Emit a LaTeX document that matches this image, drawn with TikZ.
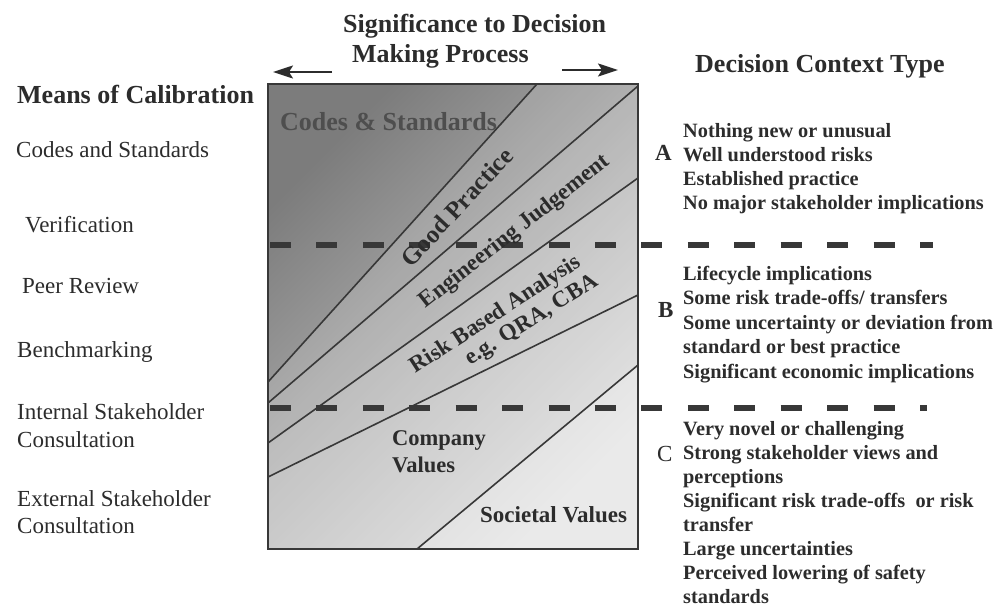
\documentclass[tikz,border=0pt]{standalone}
\usepackage{fontspec}
\setmainfont{Liberation Serif}
\usetikzlibrary{arrows.meta}
\definecolor{ink}{HTML}{2C2C2C}
\definecolor{edge}{HTML}{383838}
\definecolor{shadeTL}{HTML}{7C7C7C}
\definecolor{shadeBR}{HTML}{D5D5D5}
\definecolor{bandink}{HTML}{4E4E4E}
\tikzset{
  lab/.style={text=ink, inner sep=0pt, anchor=base west},
  lefttxt/.style={lab, font=\fontsize{23}{27}\selectfont},
  lefthead/.style={lab, font=\fontsize{26}{30}\selectfont\bfseries},
  righttxt/.style={lab, font=\fontsize{20.3}{24}\selectfont\bfseries},
  letter/.style={lab, font=\fontsize{23}{27}\selectfont\bfseries},
  bandtxt/.style={text=ink, inner sep=0pt, font=\fontsize{23}{27}\selectfont\bfseries},
  boundary/.style={draw=edge, line width=1.6pt},
  divider/.style={draw=edge, line width=6.5pt, dash pattern=on 21pt off 25.43pt},
  sigarrow/.style={draw=ink, line width=2pt, -{Stealth[length=20pt,width=13pt,inset=4pt]}},
  lighten/.style={fill=white, fill opacity=#1, draw=none},
}
\begin{document}
\begin{tikzpicture}[x=1pt, y=-1pt]
\useasboundingbox (0,0) rectangle (1005,608);
\fill[white] (0,0) rectangle (1005,608);

% ---- box with bands ----
\shade[top color=shadeTL, bottom color=shadeBR, shading angle=45] (268,84) rectangle (638,549);
\fill[lighten=0.15] (537,84) -- (638,84) -- (638,86) -- (268,403) -- (268,382) -- cycle;
\fill[lighten=0.22] (638,86) -- (638,178) -- (268,443) -- (268,403) -- cycle;
\fill[lighten=0.30] (638,178) -- (638,295) -- (268,477) -- (268,443) -- cycle;
\fill[lighten=0.35] (638,295) -- (638,365) -- (417,549) -- (268,549) -- (268,477) -- cycle;
\fill[lighten=0.50] (638,365) -- (638,549) -- (417,549) -- cycle;

\draw[boundary] (537,84) -- (268,382);
\draw[boundary] (638,86) -- (268,403);
\draw[boundary] (638,178) -- (268,443);
\draw[boundary] (638,295) -- (268,477);
\draw[boundary] (638,365) -- (417,549);

\draw[divider] (270,245) -- (933,245);
\draw[divider] (270,408) -- (927,408);

\draw[draw=edge, line width=2.4pt] (268,84) rectangle (638,549);

% ---- band labels ----
\node[lab, text=bandink, font=\fontsize{26}{30}\selectfont\bfseries] (cs) at (280,130) {Codes \& Standards};
\node[bandtxt, font=\fontsize{25}{29}\selectfont\bfseries, rotate=47] (gp) at (457,207) {Good Practice};
\node[bandtxt, rotate=38] (ej) at (515,232) {Engineering Judgement};
\node[bandtxt, rotate=33] (rba) at (496,315) {Risk Based Analysis};
\node[bandtxt, rotate=32] (qra) at (532,321) {e.g. QRA, CBA};
\node[lab, font=\fontsize{22.5}{27}\selectfont\bfseries] (cv1) at (392,445) {Company};
\node[lab, font=\fontsize{22.5}{27}\selectfont\bfseries] (cv2) at (392,472) {Values};
\node[lab, font=\fontsize{23}{27}\selectfont\bfseries] (sv) at (480,522) {Societal Values};

% ---- title and arrows ----
\node[lab, font=\fontsize{26}{30}\selectfont\bfseries] (t1) at (343,32) {Significance to Decision};
\node[lab, font=\fontsize{26}{30}\selectfont\bfseries] (t2) at (352,62) {Making Process};
\coordinate (la1) at (332,72);
\coordinate (la2) at (273,72);
\coordinate (ra1) at (562,70);
\coordinate (ra2) at (618,70);
\draw[sigarrow] (la1) -- (la2);
\draw[sigarrow] (ra1) -- (ra2);

% ---- left column ----
\node[lefthead] (mh) at (17,103) {Means of Calibration};
\node[lefttxt] (m1) at (16,157) {Codes and Standards};
\node[lefttxt] (m2) at (25,232) {Verification};
\node[lefttxt] (m3) at (22,293) {Peer Review};
\node[lefttxt] (m4) at (17,357) {Benchmarking};
\node[lefttxt] (m5) at (17,419) {Internal Stakeholder};
\node[lefttxt] (m6) at (17,447) {Consultation};
\node[lefttxt] (m7) at (17,506) {External Stakeholder};
\node[lefttxt] (m8) at (17,533) {Consultation};

% ---- right column ----
\node[lefthead] (dh) at (695,72) {Decision Context Type};
\node[letter] (la) at (655,160) {A};
\node[letter] (lb) at (658,317) {B};
\node[letter, font=\fontsize{23}{27}\selectfont] (lc) at (657,461) {C};
\foreach \t [count=\i] in {Nothing new or unusual, Well understood risks, Established practice, No major stakeholder implications}
  \node[righttxt] (ra\i) at (683,{137+24.3*(\i-1)}) {\t};
\foreach \t [count=\i] in {Lifecycle implications, Some risk trade-offs/ transfers, Some uncertainty or deviation from, standard or best practice, Significant economic implications}
  \node[righttxt] (rb\i) at (683,{280+24.5*(\i-1)}) {\t};
\foreach \t [count=\i] in {Very novel or challenging, Strong stakeholder views and, perceptions, Significant risk trade-offs\ \ or risk, transfer, Large uncertainties, Perceived lowering of safety, standards}
  \node[righttxt] (rc\i) at (683,{435+24*(\i-1)}) {\t};
\end{tikzpicture}
\end{document}
